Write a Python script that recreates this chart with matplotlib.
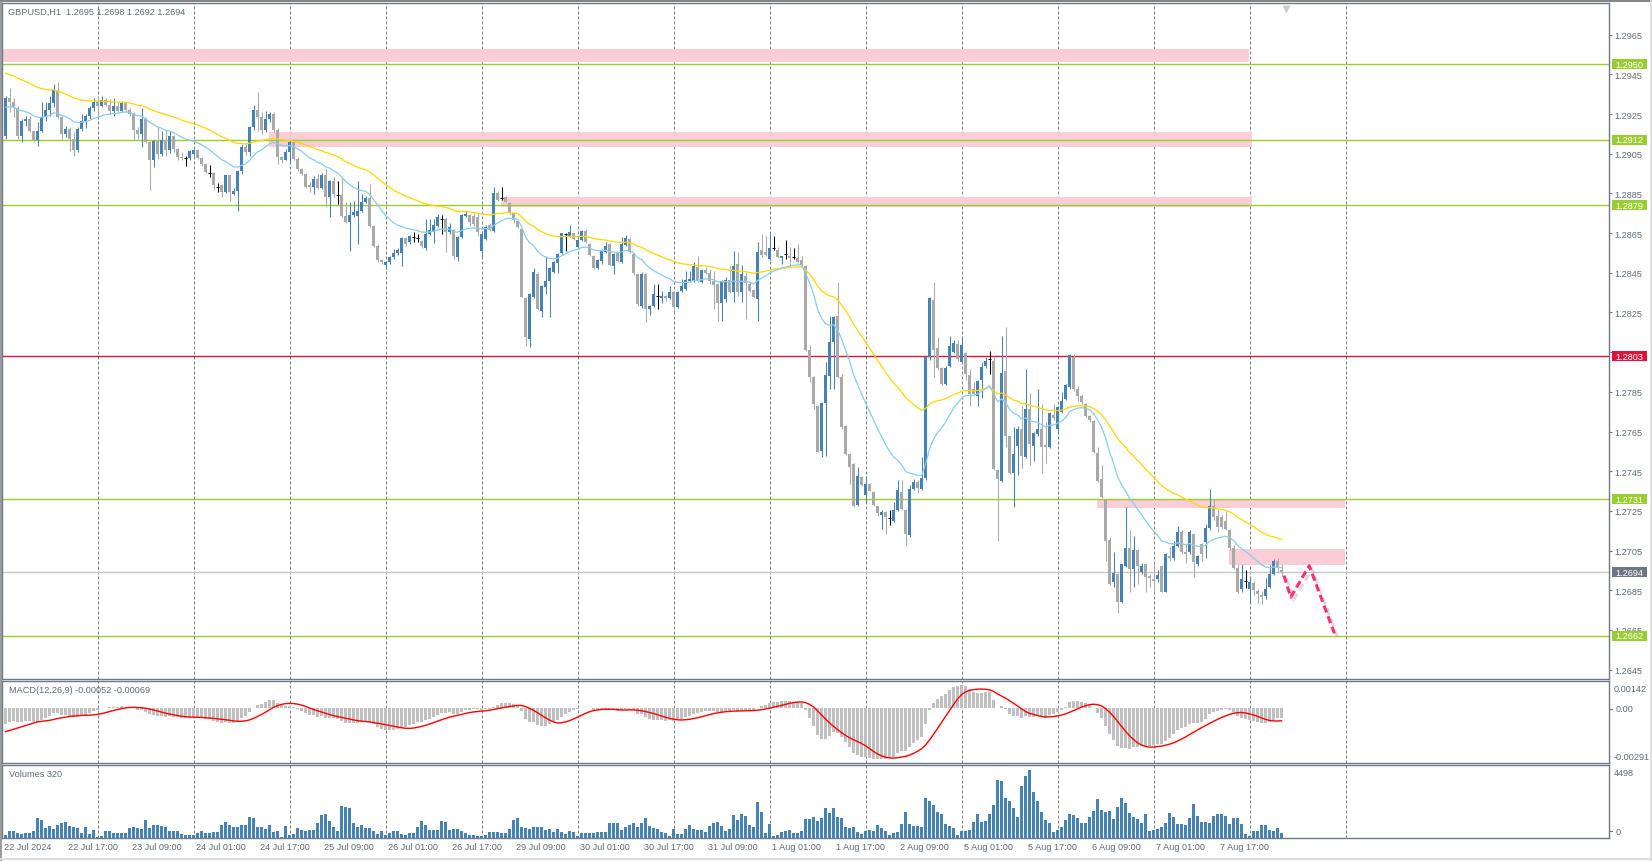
import numpy as np
import matplotlib.pyplot as plt
import matplotlib.transforms as mtransforms
import matplotlib.patheffects as pe
from matplotlib.patches import Rectangle

plt.rcParams['font.family'] = ['Liberation Sans', 'DejaVu Sans']

# GBPUSD H1, bars from 22 Jul 01:00 to 8 Aug 08:00
# prices are written as pips above 1.2600
BASE = 1.2600

open_pips = [
    # 22 Jul
    314.1, 332.9, 330.9, 327.9, 314.1, 321.7, 322.5, 316.3, 311.9, 316.3, 323.3, 327.0,
    330.4, 337.3, 323.3, 314.9, 317.5, 312.4, 306.9, 317.5, 321.7, 323.8, 327.9,
    # 23 Jul
    331.2, 329.2, 332.1, 329.7, 326.7, 328.9, 326.7, 330.4, 327.2, 325.0, 317.1, 314.9,
    322.5, 311.1, 302.0, 311.6, 304.9, 311.9, 306.9, 313.7, 307.4, 303.2, 302.9, 302.9,
    # 24 Jul
    305.0, 306.9, 302.9, 299.9, 295.5, 295.5, 288.1, 289.0, 285.6, 294.3, 284.8, 286.4,
    296.2, 308.6, 305.8, 318.7, 327.1, 323.4, 317.2, 322.6, 325.1, 317.2, 303.2, 301.9,
    # 25 Jul
    305.8, 311.1, 302.4, 297.4, 295.0, 289.0, 288.1, 292.3, 287.8, 294.5, 283.1, 291.4,
    284.4, 284.4, 273.8, 270.8, 274.1, 273.8, 276.3, 280.5, 282.5, 268.7, 258.7, 251.6,
    # 26 Jul
    249.1, 250.6, 252.8, 255.0, 255.0, 262.4, 260.3, 262.9, 262.4, 261.2, 257.3, 264.5,
    265.4, 268.7, 272.1, 272.1, 265.4, 266.6, 252.8, 262.9, 273.8, 274.1, 273.8, 272.9,
    # 29 Jul
    256.1, 262.0, 269.3, 266.2, 285.2, 282.7, 283.4, 280.2, 275.0, 271.3, 267.1, 232.3,
    211.6, 233.0, 244.4, 225.9, 238.0, 240.7, 245.6, 249.8, 254.8, 264.6, 263.2, 264.9,
    # 30 Jul
    258.2, 261.5, 266.2, 259.5, 253.6, 247.3, 250.8, 255.3, 259.5, 248.6, 254.8, 250.3,
    259.2, 262.0, 254.5, 244.4, 228.4, 244.4, 226.8, 228.4, 233.5, 232.3, 233.5, 232.5,
    # 31 Jul
    235.2, 227.9, 236.0, 236.8, 241.0, 241.0, 247.8, 240.2, 246.4, 244.7, 240.7, 239.4,
    230.0, 231.8, 241.4, 235.2, 249.4, 235.2, 243.6, 239.4, 236.3, 231.8, 256.5, 255.3,
    # 1 Aug
    252.0, 257.3, 256.5, 252.3, 254.5, 253.6, 253.1, 252.5, 251.5, 248.6, 206.1, 192.3,
    178.0, 155.0, 179.4, 193.1, 210.0, 223.4, 192.3, 167.9, 153.7, 148.6, 128.0, 141.9,
    # 2 Aug
    133.0, 138.5, 134.7, 127.3, 122.9, 124.6, 121.2, 120.1, 125.6, 134.7, 125.6, 112.8,
    136.0, 139.4, 136.0, 141.4, 202.4, 231.4, 206.9, 196.8, 189.0, 198.2, 205.2, 209.1,
    # 5 Aug
    200.2, 204.6, 193.5, 186.4, 183.1, 191.1, 198.2, 201.5, 200.7, 145.8, 140.2, 195.7,
    162.6, 144.1, 157.9, 166.3, 152.0, 176.3, 157.9, 163.7, 166.3, 158.0, 157.0, 173.3,
    # 6 Aug
    166.3, 175.0, 181.5, 187.3, 202.4, 186.4, 183.1, 178.9, 173.0, 170.5, 154.2, 141.1,
    130.6, 110.5, 89.3, 93.2, 79.2, 97.0, 106.3, 95.7, 105.4, 94.4, 98.2, 92.4,
    # 7 Aug
    90.6, 90.6, 97.4, 84.3, 102.1, 101.1, 107.5, 114.5, 104.1, 104.1, 113.3, 98.2,
    108.3, 109.1, 116.2, 127.6, 122.2, 121.7, 120.0, 115.5, 106.1, 96.0, 85.6, 89.8,
    # 8 Aug
    85.6, 88.6, 84.8, 82.5, 82.3, 86.5, 93.2, 99.9, 95.0,
]

high_pips = [
    334.0, 338.1, 333.0, 329.2, 322.5, 324.2, 324.2, 316.6, 320.8, 330.9, 330.9, 334.3,
    340.1, 341.0, 323.8, 319.1, 318.3, 315.8, 318.3, 325.0, 325.0, 329.2, 332.9,
    334.3, 334.3, 333.0, 332.6, 332.9, 331.2, 331.7, 331.2, 328.0, 325.9, 318.3, 327.9,
    323.0, 311.6, 312.1, 319.1, 316.6, 317.1, 316.6, 314.5, 308.0, 306.0, 303.6, 307.0,
    307.5, 307.4, 303.2, 300.2, 299.5, 295.7, 290.3, 289.8, 294.5, 294.5, 287.5, 297.0,
    310.0, 310.0, 319.2, 329.3, 336.0, 325.9, 326.7, 326.0, 326.0, 318.0, 304.0, 307.4,
    312.0, 311.3, 303.2, 297.6, 295.5, 290.6, 294.0, 294.9, 295.5, 297.3, 292.0, 293.1,
    291.4, 293.1, 280.5, 280.5, 281.3, 291.4, 284.7, 283.8, 289.7, 269.1, 259.5, 252.0,
    251.1, 253.3, 257.0, 257.3, 263.0, 263.0, 264.0, 265.4, 264.5, 261.7, 272.1, 272.1,
    272.1, 274.6, 274.1, 273.0, 270.0, 267.0, 263.5, 274.6, 276.3, 274.6, 275.0, 275.8,
    266.0, 269.0, 270.0, 288.1, 286.1, 288.1, 283.9, 280.5, 275.3, 271.6, 267.4, 232.8,
    235.0, 247.3, 245.2, 239.0, 253.6, 248.0, 251.0, 255.0, 265.2, 264.9, 269.3, 265.3,
    262.0, 266.6, 267.1, 260.0, 254.0, 252.0, 257.0, 260.4, 260.0, 255.0, 255.5, 262.9,
    264.2, 262.9, 255.0, 245.0, 245.5, 245.0, 229.0, 239.4, 239.4, 236.0, 234.0, 238.5,
    235.6, 236.0, 241.9, 246.1, 246.1, 250.3, 253.6, 247.0, 247.8, 246.9, 246.1, 240.0,
    241.5, 242.7, 248.6, 256.1, 255.3, 249.1, 245.2, 240.2, 236.8, 260.4, 264.6, 263.7,
    264.6, 263.7, 257.8, 253.6, 261.5, 257.8, 257.5, 259.5, 253.6, 249.1, 208.6, 193.0,
    178.5, 180.0, 200.0, 223.4, 223.4, 240.2, 194.0, 168.5, 154.0, 149.0, 147.0, 142.5,
    142.7, 139.0, 135.0, 127.5, 125.5, 125.0, 125.6, 129.3, 140.7, 140.7, 126.0, 138.0,
    141.0, 140.5, 152.0, 203.2, 232.6, 240.5, 212.5, 197.3, 198.2, 213.0, 211.3, 211.3,
    212.5, 205.2, 196.5, 189.8, 191.0, 199.9, 202.4, 205.7, 203.2, 146.0, 213.3, 217.5,
    163.0, 167.1, 167.6, 178.0, 196.5, 184.4, 165.0, 186.4, 178.9, 169.6, 175.0, 178.9,
    177.7, 184.7, 189.0, 204.1, 204.1, 187.8, 184.0, 179.5, 173.5, 171.0, 157.0, 148.1,
    131.0, 111.7, 104.1, 93.7, 98.5, 127.0, 115.3, 112.5, 106.0, 99.0, 98.5, 93.0,
    99.1, 95.0, 97.8, 104.0, 107.0, 110.0, 117.3, 115.3, 108.5, 115.5, 113.5, 103.0,
    109.0, 118.5, 136.1, 131.0, 125.5, 123.0, 125.0, 116.0, 108.0, 98.0, 98.0, 95.0,
    91.0, 89.5, 85.5, 84.5, 91.0, 97.5, 100.8, 101.5, 98.0,
]

low_pips = [
    312.4, 325.9, 323.3, 312.4, 311.1, 319.1, 315.8, 311.1, 309.1, 315.8, 321.7, 324.2,
    328.4, 322.5, 312.4, 313.3, 306.5, 304.0, 305.7, 316.6, 317.8, 322.5, 326.7,
    323.3, 328.4, 328.9, 325.0, 324.2, 325.9, 325.9, 326.2, 324.2, 312.1, 312.4, 308.2,
    310.5, 286.9, 298.1, 302.3, 304.0, 303.7, 305.5, 305.8, 302.0, 302.0, 299.0, 302.0,
    303.6, 302.4, 299.0, 295.2, 293.2, 286.8, 285.9, 283.1, 285.0, 281.1, 284.0, 276.0,
    295.0, 304.5, 304.0, 317.0, 316.7, 315.0, 316.0, 321.0, 316.0, 299.9, 300.2, 301.6,
    299.9, 301.6, 296.5, 294.3, 287.5, 285.6, 284.8, 287.0, 287.0, 278.0, 273.0, 283.0,
    279.7, 272.9, 270.0, 256.1, 273.0, 259.5, 275.5, 280.0, 268.0, 258.0, 250.6, 249.4,
    246.9, 249.4, 252.0, 254.0, 248.6, 258.7, 259.5, 260.7, 260.3, 257.5, 256.6, 264.0,
    260.0, 268.0, 264.5, 255.3, 264.5, 251.9, 251.1, 262.4, 272.9, 268.7, 268.7, 263.7,
    252.8, 261.5, 266.2, 265.7, 281.0, 281.7, 280.5, 274.3, 269.9, 267.4, 233.0, 208.3,
    207.4, 232.5, 226.0, 222.9, 234.3, 222.9, 245.0, 244.7, 254.5, 255.8, 263.0, 261.5,
    257.8, 261.0, 260.0, 253.6, 246.9, 247.0, 249.4, 255.0, 248.6, 244.4, 250.3, 250.0,
    258.7, 254.8, 244.0, 228.5, 227.5, 220.0, 223.9, 227.6, 226.8, 229.8, 231.0, 232.0,
    225.6, 227.5, 235.5, 236.3, 240.5, 240.5, 240.5, 240.0, 244.5, 239.4, 226.8, 220.9,
    220.9, 230.1, 234.8, 230.1, 233.5, 230.1, 221.7, 235.5, 232.5, 220.9, 252.8, 253.6,
    251.5, 256.5, 252.5, 249.4, 252.0, 248.6, 252.0, 250.0, 248.5, 205.8, 189.8, 176.3,
    154.5, 152.0, 152.8, 186.4, 186.4, 192.0, 166.3, 153.0, 138.5, 127.0, 127.5, 137.5,
    129.3, 134.8, 127.5, 122.6, 115.9, 113.3, 117.9, 119.5, 125.0, 125.5, 107.5, 112.0,
    135.5, 134.0, 135.5, 140.5, 201.0, 192.3, 196.0, 188.5, 188.5, 197.5, 204.5, 200.5,
    199.5, 191.1, 177.7, 183.5, 177.7, 181.7, 197.0, 194.0, 145.5, 110.0, 139.5, 157.0,
    143.6, 126.8, 143.1, 146.4, 151.5, 148.1, 150.3, 163.0, 144.1, 149.1, 156.5, 171.0,
    163.7, 174.5, 181.0, 186.5, 185.5, 180.5, 179.0, 172.5, 170.0, 154.2, 139.5, 131.5,
    99.9, 87.5, 86.5, 73.5, 78.5, 96.5, 84.3, 86.5, 88.0, 93.0, 84.3, 86.5,
    84.0, 89.0, 84.0, 84.0, 100.0, 100.5, 107.0, 103.5, 99.0, 103.5, 91.5, 97.0,
    100.0, 101.5, 115.5, 120.5, 114.5, 116.0, 115.5, 105.5, 95.5, 83.5, 84.0, 86.0,
    78.5, 82.5, 78.5, 78.0, 80.5, 86.0, 92.5, 94.0, 92.0,
]

close_pips = [
    332.9, 330.9, 327.9, 314.1, 321.7, 322.5, 316.3, 311.9, 316.3, 323.3, 327.0, 330.4,
    337.3, 323.3, 314.9, 317.5, 312.4, 306.9, 317.5, 321.7, 323.8, 327.9, 331.2,
    329.2, 332.1, 329.7, 326.7, 328.9, 326.7, 330.4, 327.2, 325.0, 317.1, 314.9, 322.5,
    311.1, 302.0, 311.6, 304.9, 311.9, 306.9, 313.7, 307.4, 303.2, 302.9, 302.9, 306.6,
    306.9, 302.9, 299.9, 295.7, 295.5, 289.0, 288.1, 285.6, 294.3, 285.6, 286.4, 296.2,
    308.6, 305.8, 318.7, 327.1, 323.4, 317.2, 322.6, 325.1, 317.2, 303.2, 301.9, 305.8,
    311.1, 302.4, 297.4, 295.0, 288.1, 288.1, 292.3, 287.8, 294.5, 283.1, 291.4, 284.7,
    284.4, 273.8, 270.8, 274.1, 275.5, 276.3, 280.5, 282.5, 268.7, 258.7, 251.6, 250.3,
    250.6, 252.8, 255.0, 256.6, 262.4, 259.5, 263.4, 262.9, 262.4, 258.3, 264.5, 266.6,
    269.1, 272.9, 272.1, 265.4, 267.9, 253.3, 262.9, 274.1, 274.6, 270.4, 269.6, 265.4,
    264.5, 268.3, 266.6, 285.2, 281.7, 282.7, 280.9, 275.0, 271.6, 267.9, 233.0, 212.8,
    234.3, 245.2, 226.8, 238.5, 240.7, 247.3, 250.6, 254.5, 264.9, 264.6, 265.7, 262.0,
    261.5, 266.2, 260.4, 254.1, 247.4, 251.5, 255.8, 258.7, 249.1, 254.5, 250.8, 259.5,
    262.5, 255.3, 244.7, 229.3, 244.4, 226.8, 228.4, 234.3, 233.5, 233.5, 232.3, 235.2,
    227.9, 235.2, 238.5, 241.4, 242.0, 248.6, 241.0, 246.4, 244.9, 241.0, 239.0, 230.0,
    241.0, 241.4, 235.2, 248.6, 235.2, 244.4, 239.7, 236.0, 233.0, 255.3, 254.1, 254.1,
    257.5, 257.3, 253.1, 253.5, 254.5, 252.3, 253.1, 250.3, 249.1, 206.1, 192.3, 178.9,
    154.8, 179.4, 193.5, 210.3, 222.5, 192.3, 167.1, 153.7, 147.3, 127.3, 142.7, 138.0,
    138.5, 135.2, 128.0, 123.9, 124.6, 121.7, 121.2, 125.6, 135.7, 125.9, 113.3, 136.0,
    139.4, 136.4, 141.4, 202.4, 232.1, 206.2, 196.8, 189.0, 196.8, 207.9, 209.6, 201.5,
    208.6, 194.0, 183.9, 183.9, 190.6, 197.3, 200.7, 201.5, 146.1, 141.1, 194.5, 162.9,
    144.1, 153.7, 166.3, 152.5, 176.3, 158.7, 164.2, 166.3, 157.0, 157.0, 174.2, 171.6,
    177.2, 180.5, 188.4, 203.6, 186.4, 183.1, 179.7, 173.0, 171.0, 154.8, 140.2, 132.2,
    110.0, 88.1, 93.7, 79.2, 98.2, 106.3, 95.7, 105.4, 97.4, 97.4, 91.5, 91.0,
    89.5, 92.7, 84.3, 103.3, 101.1, 107.1, 114.5, 104.1, 103.3, 114.2, 99.1, 102.5,
    103.3, 116.2, 127.6, 121.7, 116.7, 116.7, 115.9, 106.1, 96.0, 84.3, 90.6, 89.8,
    89.3, 85.3, 83.1, 81.4, 85.6, 93.2, 99.9, 96.0, 94.0,
]

volumes = [
    220, 463, 485, 331, 265, 353, 353, 485, 1323, 1213, 639, 816, 573, 860, 1014, 1058,
    816, 750, 662, 309, 706, 287, 529,
    66, 132, 485, 463, 331, 331, 331, 331, 684, 706, 684, 595, 1191, 639, 860, 882,
    816, 706, 485, 485, 485, 265, 198, 198,
    220, 309, 441, 331, 353, 419, 419, 860, 1058, 860, 706, 706, 838, 838, 1367, 1323,
    706, 706, 595, 860, 419, 485, 88, 816,
    198, 265, 662, 529, 463, 507, 529, 1014, 1499, 1588, 1125, 706, 485, 2095, 2029, 1985,
    1014, 706, 860, 639, 639, 485, 265, 485,
    220, 331, 441, 441, 265, 220, 331, 353, 750, 1125, 860, 551, 529, 551, 1103, 1080,
    551, 573, 617, 485, 309, 198, 220, 154,
    110, 220, 397, 397, 397, 309, 309, 595, 1169, 1323, 750, 684, 595, 706, 706, 706,
    551, 595, 375, 573, 375, 265, 485, 419,
    110, 309, 331, 353, 353, 375, 375, 397, 970, 970, 992, 551, 750, 838, 992, 750,
    992, 1323, 816, 662, 573, 419, 309, 154,
    595, 265, 265, 595, 860, 595, 551, 529, 419, 772, 992, 1058, 816, 485, 595, 1521,
    1213, 1588, 1477, 860, 706, 2381, 1720, 309,
    926, 110, 198, 419, 485, 529, 331, 353, 441, 1257, 1257, 1411, 1147, 1323, 1985, 1676,
    1985, 1367, 1323, 750, 662, 750, 375, 265,
    441, 529, 485, 860, 662, 485, 220, 331, 419, 926, 1742, 926, 816, 794, 706, 2646,
    2426, 2183, 1698, 1588, 926, 794, 639, 220,
    485, 485, 551, 1080, 1588, 1080, 1147, 1588, 2205, 3837, 3749, 2624, 2470, 1962, 1367, 3462,
    4079, 4498, 3065, 2470, 1742, 1191, 992, 419,
    551, 706, 1213, 1588, 1521, 1323, 992, 992, 1367, 1808, 2580, 1852, 1720, 1764, 1257, 2029,
    2646, 2315, 1632, 1367, 1257, 1014, 1588, 485,
    529, 595, 706, 970, 1654, 1411, 926, 926, 882, 1323, 2249, 1433, 1080, 1080, 992, 1477,
    1588, 1566, 1477, 926, 1323, 1323, 926, 265,
    154, 485, 485, 860, 860, 529, 485, 662, 320,
]

# starting values of the averages (history before the first bar)
ema_fast_seed, ema_slow_seed = 1.2928, 1.2946      # EMA20 / EMA50 on the chart
macd_seed12, macd_seed26, macd_signal_seed = 1.2925, 1.2935, -0.0013

# horizontal levels and zones
green_levels = [1.2950, 1.2912, 1.2879, 1.2731, 1.2662]
red_level = 1.2803
bid_price = 1.2694
zone_low = [1.29511, 1.29086, 1.28783, 1.27265, 1.26977]
zone_high = [1.29580, 1.29158, 1.28834, 1.27310, 1.27058]
zone_start = [-0.9, 65.85, 123.85, 272.85, 305.85]
zone_end = [310.8, 311.5, 311.5, 334.85, 334.85]

# projected path
forecast_bar = [319.6, 321.3, 325.9, 332.2]
forecast_price = [1.26924, 1.26815, 1.26974, 1.26633]

day_start_bars = [23, 47, 71, 95, 119, 143, 167, 191, 215, 239, 263, 287, 311, 335]
time_label_bars = [0, 16, 32, 48, 64, 80, 96, 112, 128, 144, 160, 176, 192, 208, 224,
                   240, 256, 272, 288, 304]
time_labels = ['22 Jul 2024', '22 Jul 17:00', '23 Jul 09:00', '24 Jul 01:00', '24 Jul 17:00',
               '25 Jul 09:00', '26 Jul 01:00', '26 Jul 17:00', '29 Jul 09:00', '30 Jul 01:00',
               '30 Jul 17:00', '31 Jul 09:00', '1 Aug 01:00', '1 Aug 17:00', '2 Aug 09:00',
               '5 Aug 01:00', '5 Aug 17:00', '6 Aug 09:00', '7 Aug 01:00', '7 Aug 17:00']
price_ticks = [1.2965, 1.2945, 1.2925, 1.2905, 1.2885, 1.2865, 1.2845, 1.2825, 1.2805,
               1.2785, 1.2765, 1.2745, 1.2725, 1.2705, 1.2685, 1.2665, 1.2645]

BULL, BEAR = '#4682b4', '#a9a9a9'
FRAME, TXT, GRID = '#6f7985', '#5f6a76', '#77808a'
GREEN, RED = '#9acd32', '#dc143c'
FS = 6.6

o = BASE + np.array(open_pips) / 1e4
h = BASE + np.array(high_pips) / 1e4
l = BASE + np.array(low_pips) / 1e4
c = BASE + np.array(close_pips) / 1e4
x = np.arange(len(c))


def ema(vals, n, seed):
    a = 2.0 / (n + 1)
    out = np.empty_like(vals)
    prev = seed
    for i, v in enumerate(vals):
        prev = prev + a * (v - prev)
        out[i] = prev
    return out


ma_fast = ema(c, 20, ema_fast_seed)
ma_slow = ema(c, 50, ema_slow_seed)
macd = ema(c, 12, macd_seed12) - ema(c, 26, macd_seed26)
signal = np.convolve(np.r_[np.full(8, macd_signal_seed), macd], np.ones(9) / 9, mode='valid')

W, H = 1652, 862
fig = plt.figure(figsize=(W / 100, H / 100), dpi=100)


def box(left, top, right, bottom):
    return [left / W, 1 - bottom / H, (right - left) / W, (bottom - top) / H]


ax = fig.add_axes(box(2, 4.3, 1609, 680))
ax_m = fig.add_axes(box(2, 682, 1609, 764), sharex=ax)
ax_v = fig.add_axes(box(2, 766, 1609, 839), sharex=ax)

for a in (ax, ax_m, ax_v):
    for s in a.spines.values():
        s.set_color(FRAME)
        s.set_linewidth(1.0)
    a.tick_params(bottom=False, labelbottom=False, left=False, labelleft=False)
    for d in day_start_bars:
        a.axvline(d, color=GRID, lw=0.72, ls=(0, (3, 2)), zorder=0.5)

ax.set_xlim(-0.9, 400.85)
ax.set_ylim(1.26403, 1.29808)
ax_m.set_ylim(-0.00291, 0.00142)
ax_v.set_ylim(0, 4829)

# zones and levels
for lo, hi, x0, x1 in zip(zone_low, zone_high, zone_start, zone_end):
    ax.add_patch(Rectangle((x0, lo), x1 - x0, hi - lo, facecolor='#fbcdd7',
                           edgecolor='none', zorder=1))
for lv in green_levels:
    ax.axhline(lv, color=GREEN, lw=1.0, zorder=2)
ax.axhline(red_level, color=RED, lw=1.0, zorder=2)
ax.axhline(bid_price, color='#c8c8c8', lw=1.0, zorder=2)

# candles
doji = np.abs(c - o) < 0.000005
col = np.where(doji, 'black', np.where(c > o, BULL, BEAR))
ax.vlines(x, l, h, colors=col, lw=0.75, zorder=3)
body = ~doji
ax.bar(x[body], np.maximum(np.abs(c - o)[body], 0.00004), bottom=np.minimum(o, c)[body],
       width=0.7, color=col[body], lw=0, zorder=4)
ax.hlines(c[doji], x[doji] - 0.4, x[doji] + 0.4, colors='black', lw=0.75, zorder=4)

ax.plot(x, ma_slow, color='#ffd700', lw=0.9, zorder=5)
ax.plot(x, ma_fast, color='#87ceeb', lw=0.9, zorder=5)

ax.plot(forecast_bar, forecast_price, color='#ff2f72', lw=2.2, ls=(0, (2.4, 1.3)),
        zorder=6, path_effects=[pe.SimpleLineShadow(offset=(2, -2), shadow_color='#888888',
                                                    alpha=0.3), pe.Normal()])

# shift marker
ax.plot([320.1], [0.992], marker='v', ms=5.5, color='#cdcdcd', mec='none',
        transform=mtransforms.blended_transform_factory(ax.transData, ax.transAxes),
        clip_on=False, zorder=7)

# price axis
ax.yaxis.tick_right()
ax.set_yticks(price_ticks)
ax.set_yticklabels([f'{p:.4f}' for p in price_ticks])
ax.tick_params(axis='y', right=True, labelright=True, length=2.2, width=0.8, color=FRAME,
               pad=2.0, labelsize=FS, labelcolor=TXT)

tr = mtransforms.blended_transform_factory(fig.transFigure, ax.transData)
tags = [(lv, GREEN) for lv in green_levels] + [(red_level, RED), (bid_price, '#6b7787')]
for val, fc in tags:
    ax.add_patch(Rectangle((1611.5 / W, val - 0.000255), 35.5 / W, 0.00051, transform=tr,
                           facecolor=fc, edgecolor='none', clip_on=False, zorder=8))
    ax.text(1615 / W, val, f'{val:.4f}', transform=tr, color='white', fontsize=FS,
            va='center', ha='left', zorder=9, clip_on=False)

# MACD
ax_m.bar(x, macd, width=0.65, color='#c0c0c0', lw=0, zorder=2)
ax_m.plot(x, signal, color='#ff0000', lw=1.0, zorder=3)

# volumes
ax_v.bar(x, volumes, width=0.65, color=BULL, lw=0, zorder=2)


def side_text(ypx, s, xpx=1613.5):
    fig.text(xpx / W, 1 - ypx / H, s, fontsize=FS, color=TXT, va='center', ha='left')


side_text(689.3, '0.00142')
side_text(710.0, '0.00', 1615.5)
side_text(757.3, '-0.00291')
side_text(773.3, '4498')
side_text(832.3, '0', 1615.5)
for ypx in (710.0, 832.3):
    fig.add_artist(plt.Line2D([1609.5 / W, 1612 / W], [1 - ypx / H] * 2, color=FRAME, lw=0.8))

fig.text(8 / W, 1 - 12.5 / H, 'GBPUSD,H1  1.2695 1.2698 1.2692 1.2694', fontsize=FS,
         color=TXT, va='center')
fig.text(9 / W, 1 - 691 / H, 'MACD(12,26,9) -0.00052 -0.00069', fontsize=FS,
         color=TXT, va='center')
fig.text(9 / W, 1 - 775 / H, f'Volumes {volumes[-1]}', fontsize=FS, color=TXT, va='center')

trx = mtransforms.blended_transform_factory(ax_v.transData, fig.transFigure)
for b, s in zip(time_label_bars, time_labels):
    ax_v.text(b - 0.4, 1 - 848 / H, s, transform=trx, fontsize=FS, color=TXT,
              va='center', ha='left', clip_on=False)

# window borders
fig.add_artist(plt.Line2D([0, 1], [1 - 1.5 / H] * 2, color='#6e6e6e', lw=1.2))
fig.add_artist(plt.Line2D([0.6 / W] * 2, [0, 1], color='#8a8a8a', lw=1.2))
fig.add_artist(plt.Line2D([0, 1], [1 - 859.5 / H] * 2, color='#dcdcdc', lw=1.5))
fig.add_artist(plt.Line2D([1651 / W] * 2, [0, 1], color='#dcdcdc', lw=1.2))

fig.savefig('out.png', dpi=100, facecolor='white')
